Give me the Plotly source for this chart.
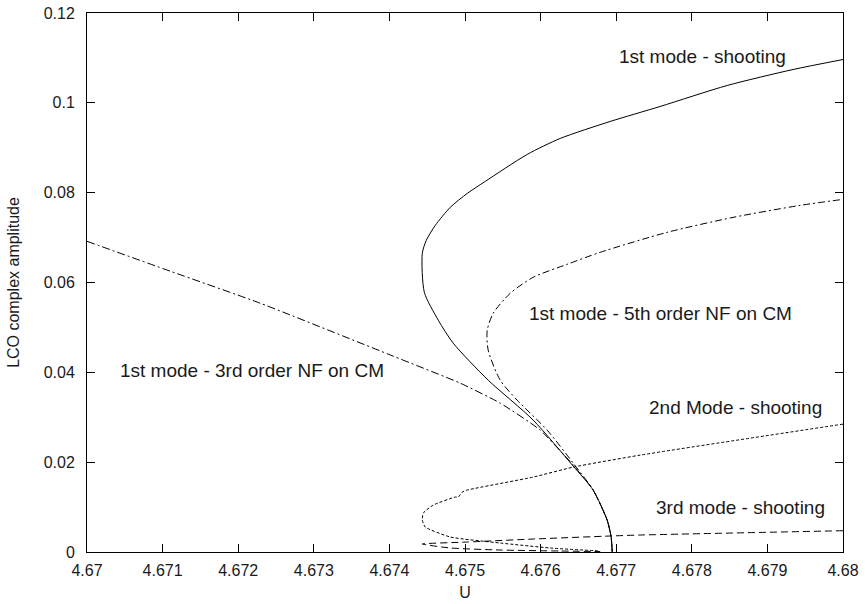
import plotly.graph_objects as go

# ---- data ----
mode1_shoot_U = [4.676947, 4.676933, 4.676880, 4.676695, 4.676431, 4.675902, 4.675307,
                 4.674845, 4.674647, 4.674462, 4.674435, 4.674488, 4.674607, 4.674805,
                 4.675030, 4.675268, 4.675823, 4.676259, 4.676920, 4.677581, 4.678467,
                 4.679339, 4.680000]
mode1_shoot_A = [0.0, 0.00334, 0.00712, 0.01379, 0.01913, 0.02936, 0.03826,
                 0.04648, 0.05160, 0.05782, 0.06650, 0.06939, 0.07272, 0.07673,
                 0.07984, 0.08251, 0.08852, 0.09207, 0.09585, 0.09919, 0.10386,
                 0.10742, 0.10964]

mode1_nf5_U = [4.676947, 4.676933, 4.676880, 4.676695, 4.676431, 4.676087, 4.675690,
               4.675466, 4.675307, 4.675294, 4.675373, 4.675598, 4.675902, 4.676351,
               4.676788, 4.677674, 4.678546, 4.679432, 4.680000]
mode1_nf5_A = [0.0, 0.00334, 0.00712, 0.01379, 0.01979, 0.02713, 0.03380,
               0.03825, 0.04492, 0.04937, 0.05315, 0.05760, 0.06116, 0.06405,
               0.06672, 0.07117, 0.07450, 0.07717, 0.07851]

mode1_nf3_U = [4.670000, 4.671104, 4.672293, 4.674052, 4.674937, 4.675466, 4.675995,
               4.676431, 4.676695, 4.676880, 4.676933, 4.676947]
mode1_nf3_A = [0.06917, 0.06250, 0.05538, 0.04359, 0.03759, 0.03314, 0.02713,
               0.01935, 0.01379, 0.00712, 0.00334, 0.0]

mode2_shoot_U = [4.680000, 4.677317, 4.676431, 4.675902, 4.675030, 4.674964, 4.674911,
                 4.674871, 4.674580, 4.674448, 4.674435, 4.674474, 4.674805, 4.675466,
                 4.676127, 4.676788]
mode2_shoot_A = [0.02847, 0.02157, 0.01890, 0.01668, 0.01379, 0.01334, 0.01223,
                 0.01223, 0.01045, 0.00867, 0.00712, 0.00556, 0.00334, 0.00200,
                 0.00089, 0.00022]

mode3_shoot_U = [4.680000, 4.677317, 4.676920, 4.675902, 4.675030, 4.674435, 4.674805,
                 4.675466, 4.676259, 4.676788]
mode3_shoot_A = [0.00474, 0.00378, 0.00356, 0.00289, 0.00222, 0.00178, 0.00089,
                 0.00044, 0.00022, 0.00010]

x_ticks = [4.67, 4.671, 4.672, 4.673, 4.674, 4.675, 4.676, 4.677, 4.678, 4.679, 4.68]
x_tick_labels = ["4.67", "4.671", "4.672", "4.673", "4.674", "4.675", "4.676",
                 "4.677", "4.678", "4.679", "4.68"]
y_ticks = [0, 0.02, 0.04, 0.06, 0.08, 0.1, 0.12]
y_tick_labels = ["0", "0.02", "0.04", "0.06", "0.08", "0.1", "0.12"]

label_texts = ["1st mode - shooting", "1st mode - 5th order NF on CM",
               "1st mode - 3rd order NF on CM", "2nd Mode - shooting",
               "3rd mode - shooting"]
label_U = [4.678136, 4.677581, 4.672181, 4.678572, 4.678638]
label_A = [0.1103, 0.05316, 0.04048, 0.03225, 0.01001]

FONT = "Liberation Sans, Arial, Helvetica, sans-serif"

fig = go.Figure()
series = [
    (mode1_shoot_U, mode1_shoot_A, "solid", 0.7),
    (mode1_nf5_U, mode1_nf5_A, "7px,3px,2px,3px", 0.7),
    (mode1_nf3_U, mode1_nf3_A, "8px,3px,2px,3px", 0.5),
    (mode2_shoot_U, mode2_shoot_A, "3px,2px", 0.5),
    (mode3_shoot_U, mode3_shoot_A, "7px,4px", 0.5),
]
for xs, ys, dash, sm in series:
    fig.add_trace(go.Scatter(x=xs, y=ys, mode="lines", showlegend=False,
                             line=dict(color="black", width=1, dash=dash,
                                       shape="spline", smoothing=sm)))

for t, ux, ay in zip(label_texts, label_U, label_A):
    fig.add_annotation(x=ux, y=ay, text=t, showarrow=False, xref="x", yref="y",
                       font=dict(family=FONT, size=19, color="#1a1a1a"))

axis_common = dict(showgrid=False, zeroline=False, showline=True, linecolor="black",
                   linewidth=1, mirror="ticks", ticks="inside", ticklen=8,
                   tickcolor="black", tickwidth=1,
                   tickfont=dict(family=FONT, size=16, color="#1a1a1a"))

fig.update_xaxes(range=[4.67, 4.68], tickvals=x_ticks, ticktext=x_tick_labels,
                 ticklabelstandoff=4,
                 title=dict(text="U", font=dict(family=FONT, size=16, color="#1a1a1a"),
                            standoff=8),
                 **axis_common)
fig.update_yaxes(range=[0, 0.12], tickvals=y_ticks, ticktext=y_tick_labels,
                 ticklabelstandoff=8,
                 title=dict(text="LCO complex amplitude",
                            font=dict(family=FONT, size=16, color="#1a1a1a"), standoff=20),
                 **axis_common)

fig.update_layout(width=865, height=604, margin=dict(l=87, r=22, t=13, b=52, autoexpand=False),
                  plot_bgcolor="white", paper_bgcolor="white",
                  font=dict(family=FONT))

fig.write_html("out.html")
